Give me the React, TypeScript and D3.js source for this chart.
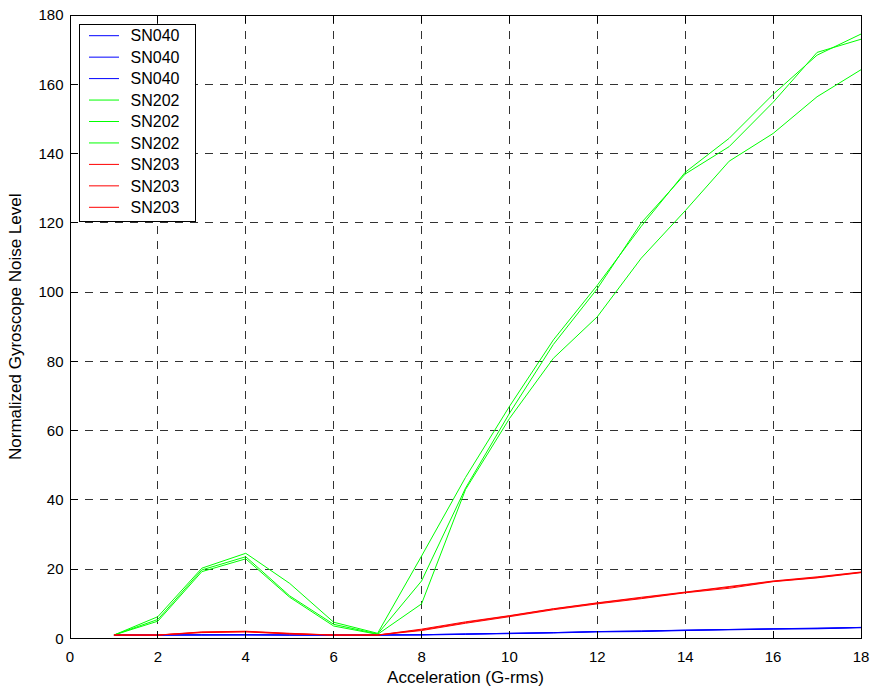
import React from 'react';
import * as d3 from 'd3';

// acceleration steps, G-rms
const accel = [1, 2, 3, 4, 5, 6, 7, 8, 9, 10, 11, 12, 13, 14, 15, 16, 17, 18];

// SN040 (three runs)
const sn040a = [1.0, 1.0, 1.0, 1.1, 1.0, 1.0, 1.0, 1.1, 1.3, 1.5, 1.7, 2.0, 2.1, 2.4, 2.6, 2.8, 2.9, 3.2];
const sn040b = [1.0, 1.0, 1.0, 1.0, 1.0, 1.0, 1.0, 1.0, 1.2, 1.4, 1.6, 1.9, 2.0, 2.3, 2.5, 2.7, 2.8, 3.1];
const sn040c = [1.0, 1.0, 1.1, 1.1, 1.0, 1.0, 1.0, 1.1, 1.3, 1.5, 1.7, 2.0, 2.2, 2.4, 2.6, 2.8, 3.0, 3.2];

// SN202 (three runs)
const sn202a = [1.0, 6.3, 20.3, 24.6, 15.9, 4.7, 1.5, 23.8, 46.5, 67.0, 86.2, 102.0, 119.0, 134.6, 144.4, 157.1, 168.4, 174.5];
const sn202b = [1.0, 5.5, 19.8, 23.6, 12.3, 4.1, 1.3, 16.6, 43.4, 65.0, 84.9, 101.0, 120.0, 134.1, 142.0, 154.8, 169.2, 173.0];
const sn202c = [1.0, 5.0, 19.3, 23.0, 11.9, 3.6, 1.2, 10.0, 43.0, 63.5, 80.9, 92.9, 109.8, 123.5, 137.8, 145.8, 156.4, 164.2];

// SN203 (three runs)
const sn203a = [1.0, 1.0, 1.8, 2.0, 1.4, 1.0, 1.0, 2.5, 4.6, 6.5, 8.5, 10.2, 11.7, 13.3, 14.8, 16.5, 17.6, 19.1];
const sn203b = [1.0, 1.0, 1.7, 1.9, 1.3, 1.0, 1.0, 2.3, 4.4, 6.3, 8.3, 10.0, 11.5, 13.2, 14.5, 16.4, 17.5, 19.0];
const sn203c = [1.0, 1.0, 1.9, 2.1, 1.5, 1.0, 1.0, 2.7, 4.8, 6.6, 8.6, 10.3, 11.9, 13.4, 15.0, 16.6, 17.8, 19.2];

const seriesNames = ['SN040', 'SN040', 'SN040', 'SN202', 'SN202', 'SN202', 'SN203', 'SN203', 'SN203'];
const seriesColors = ['#0000ff', '#0000ff', '#0000ff', '#00ff00', '#00ff00', '#00ff00', '#ff0000', '#ff0000', '#ff0000'];
const seriesValues = [sn040a, sn040b, sn040c, sn202a, sn202b, sn202c, sn203a, sn203b, sn203c];

const xTicks = [0, 2, 4, 6, 8, 10, 12, 14, 16, 18];
const yTicks = [0, 20, 40, 60, 80, 100, 120, 140, 160, 180];

const W = 874;
const H = 690;
const margin = { top: 15, right: 13, bottom: 51.5, left: 70 };
const font = '"Liberation Sans", Arial, sans-serif';

export default function App() {
  const x = d3.scaleLinear().domain([0, 18]).range([margin.left, W - margin.right]);
  const y = d3.scaleLinear().domain([0, 180]).range([H - margin.bottom, margin.top]);

  const line = d3.line<number>()
    .x((d, i) => x(accel[i]))
    .y(d => y(d));

  const x0 = x(0), x1 = x(18), y0 = y(0), y1 = y(180);
  const tick = 8;

  const lgX = 79.5, lgY = 24, lgW = 115.5, lgH = 197, lgStep = 21.45;

  return (
    <svg width={W} height={H} style={{ position: 'absolute', left: 0, top: 0, background: '#fff' }}
      fontFamily={font}>
      <rect x={0} y={0} width={W} height={H} fill="#fff" />

      {/* grid */}
      <g stroke="#000" strokeWidth={1} strokeDasharray="7.5,7.5" shapeRendering="crispEdges" opacity={0.8}>
        {xTicks.slice(1, -1).map(t => (
          <line key={'gx' + t} x1={x(t)} x2={x(t)} y1={y0} y2={y1} />
        ))}
        {yTicks.slice(1, -1).map(t => (
          <line key={'gy' + t} x1={x0} x2={x1} y1={y(t)} y2={y(t)} />
        ))}
      </g>

      {/* data, drawn in legend order */}
      <g fill="none" strokeWidth={1}>
        {seriesValues.map((vals, i) => (
          <path key={'s' + i} d={line(vals) || ''} stroke={seriesColors[i]} />
        ))}
      </g>

      {/* axes box and ticks */}
      <g stroke="#000" strokeWidth={1} shapeRendering="crispEdges">
        <rect x={x0} y={y1} width={x1 - x0} height={y0 - y1} fill="none" />
        {xTicks.map(t => (
          <g key={'tx' + t}>
            <line x1={x(t)} x2={x(t)} y1={y0} y2={y0 - tick} />
            <line x1={x(t)} x2={x(t)} y1={y1} y2={y1 + tick} />
          </g>
        ))}
        {yTicks.map(t => (
          <g key={'ty' + t}>
            <line x1={x0} x2={x0 + tick} y1={y(t)} y2={y(t)} />
            <line x1={x1} x2={x1 - tick} y1={y(t)} y2={y(t)} />
          </g>
        ))}
      </g>

      {/* tick labels */}
      <g fontSize={15} fill="#000">
        {xTicks.map(t => (
          <text key={'lx' + t} x={x(t)} y={y0 + 23} textAnchor="middle">{t}</text>
        ))}
        {yTicks.map(t => (
          <text key={'ly' + t} x={x0 - 6.5} y={y(t)} dy="0.35em" textAnchor="end">{t}</text>
        ))}
      </g>

      {/* axis labels */}
      <text x={(x0 + x1) / 2} y={683} textAnchor="middle" fontSize={17}>Acceleration (G-rms)</text>
      <text transform={`translate(21,${(y0 + y1) / 2}) rotate(-90)`} textAnchor="middle" fontSize={17}>
        Normalized Gyroscope Noise Level
      </text>

      {/* legend */}
      <g>
        <rect x={lgX} y={lgY} width={lgW} height={lgH} fill="#fff" stroke="#000" strokeWidth={1} shapeRendering="crispEdges" />
        {seriesNames.map((name, i) => {
          const ly = lgY + 11.7 + i * lgStep;
          return (
            <g key={'lg' + i}>
              <line x1={89} x2={119} y1={ly} y2={ly} stroke={seriesColors[i]} strokeWidth={1} />
              <text x={130.5} y={ly} dy="0.36em" fontSize={16}>{name}</text>
            </g>
          );
        })}
      </g>
    </svg>
  );
}
